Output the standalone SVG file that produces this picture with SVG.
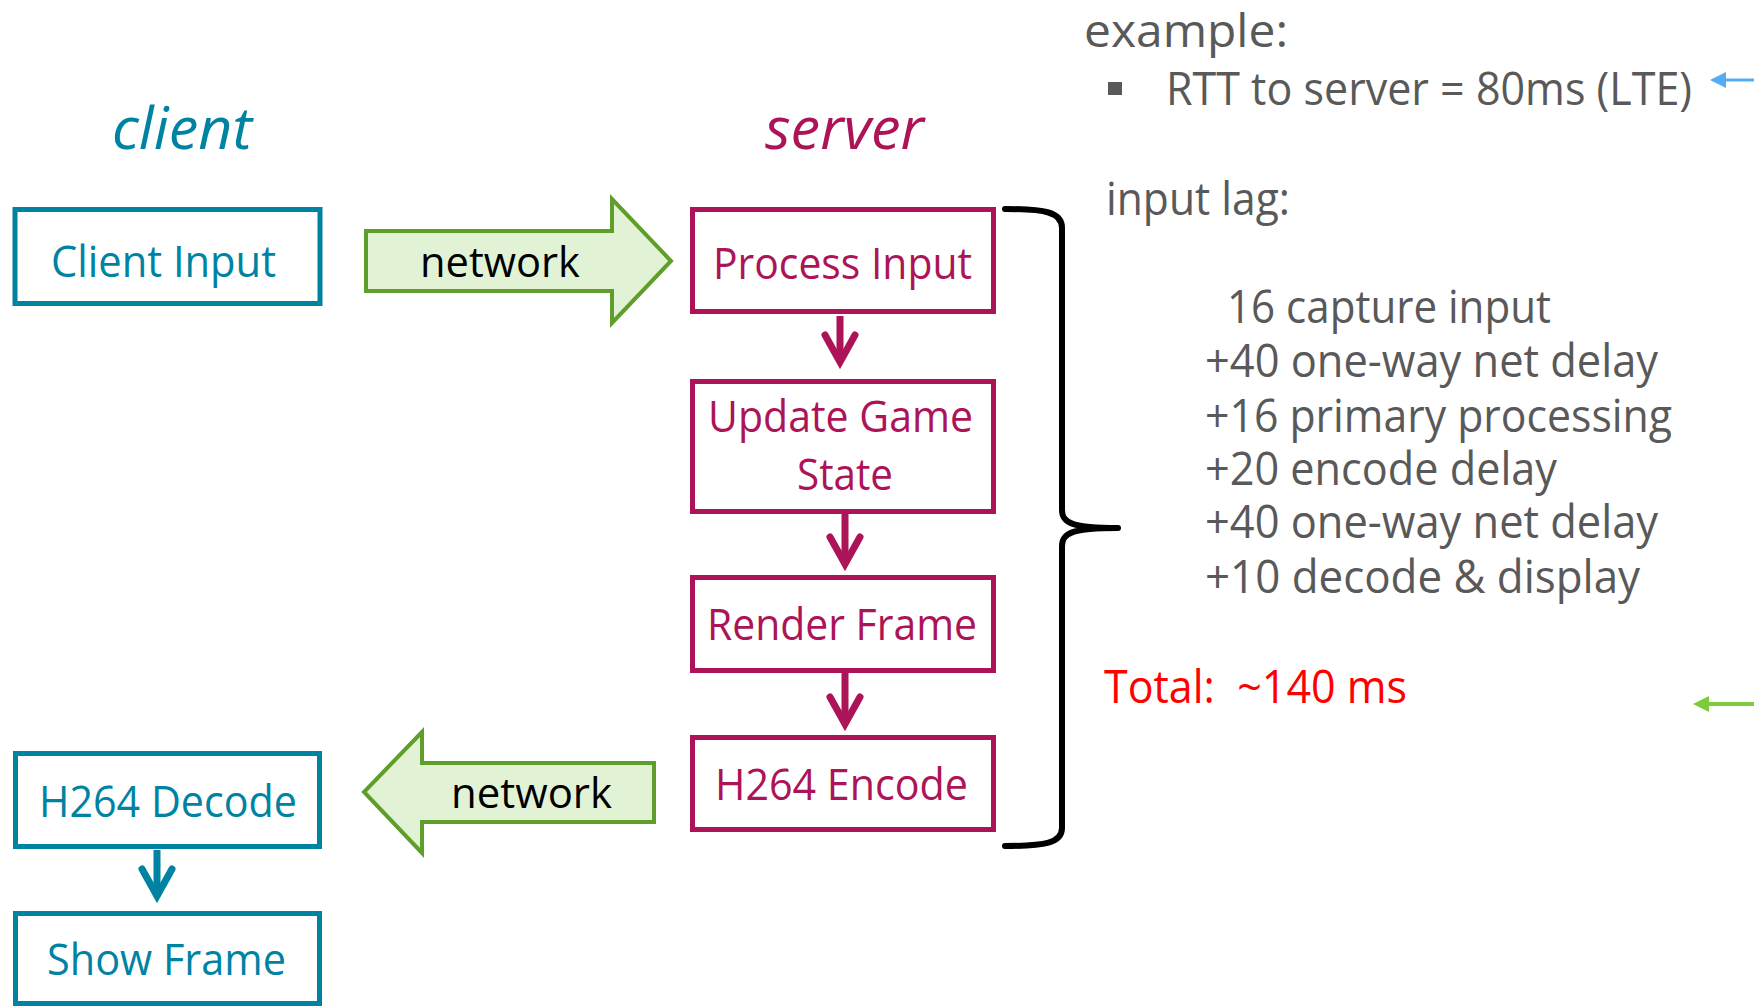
<svg xmlns="http://www.w3.org/2000/svg" width="1754" height="1008" viewBox="0 0 1754 1008">
  <style>
    .bg { fill: #ffffff; }
    .cbox { fill: #ffffff; stroke: #0083A3; stroke-width: 5; }
    .sbox { fill: #ffffff; stroke: #AD1457; stroke-width: 5; }
    .ctext { font-family: "Open Sans", "Noto Sans", sans-serif; font-size: 44px; fill: #0083A3; }
    .stext { font-family: "Open Sans", "Noto Sans", sans-serif; font-size: 43px; fill: #AD1457; }
    .head { font-family: "Open Sans", "Noto Sans", sans-serif; font-size: 58px; font-style: italic; }
    .net { fill: #E2F2D5; stroke: #5F9E2B; stroke-width: 4; stroke-linejoin: miter; }
    .nettext { font-family: "Open Sans", "Noto Sans", sans-serif; font-size: 42px; fill: #000000; }
    .gray { font-family: "Open Sans", "Noto Sans", sans-serif; font-size: 45px; fill: #595959; }
    .red { font-family: "Open Sans", "Noto Sans", sans-serif; font-size: 45px; fill: #FF0000; }
    .flowS { stroke: #AD1457; stroke-width: 7; fill: none; }
    .flowC { stroke: #0083A3; stroke-width: 7; fill: none; }
    .brace { stroke: #000000; stroke-width: 6; fill: none; stroke-linecap: round; stroke-linejoin: round; }
  </style>
  <defs>
    <marker id="chevS" markerUnits="userSpaceOnUse" viewBox="-40 -20 50 40" markerWidth="50" markerHeight="40" refX="0" refY="0" orient="auto" overflow="visible">
      <path d="M-27,-15 L0,0 L-27,15" fill="none" stroke="#AD1457" stroke-width="7" stroke-linecap="round" stroke-linejoin="miter"/>
    </marker>
    <marker id="chevC" markerUnits="userSpaceOnUse" viewBox="-40 -20 50 40" markerWidth="50" markerHeight="40" refX="0" refY="0" orient="auto" overflow="visible">
      <path d="M-27,-15 L0,0 L-27,15" fill="none" stroke="#0083A3" stroke-width="7" stroke-linecap="round" stroke-linejoin="miter"/>
    </marker>
  </defs>
  <rect class="bg" x="0" y="0" width="1754" height="1008"/>

  <!-- headers -->
  <text class="head" x="112" y="149" fill="#0083A3" textLength="140" lengthAdjust="spacingAndGlyphs">client</text>
  <text class="head" x="765" y="149" fill="#AD1457" textLength="159" lengthAdjust="spacingAndGlyphs">server</text>

  <!-- connectors -->
  <g id="connectors">
    <path class="flowS" d="M840,316 V362" marker-end="url(#chevS)"/>
    <path class="flowS" d="M845,514 V564" marker-end="url(#chevS)"/>
    <path class="flowS" d="M845,673 V724" marker-end="url(#chevS)"/>
    <path class="flowC" d="M157,850 V896" marker-end="url(#chevC)"/>
    <g id="net-up">
      <polygon class="net" points="366,231 612,231 612,199 671,261 612,323 612,291 366,291"/>
      <text class="nettext" x="420" y="277" textLength="160" lengthAdjust="spacingAndGlyphs">network</text>
    </g>
    <g id="net-down">
      <polygon class="net" points="654,763 422,763 422,732 364,792 422,853 422,822 654,822"/>
      <text class="nettext" x="451" y="808" textLength="161" lengthAdjust="spacingAndGlyphs">network</text>
    </g>
    <path class="brace" d="M1005,209 C1045,209 1062,212 1062,228 L1062,510 C1062,523 1072,528 1118,528 C1072,528 1062,533 1062,546 L1062,828 C1062,843 1045,846 1005,846"/>
    <g id="blue-arrow">
      <line x1="1754" y1="80" x2="1722" y2="80" stroke="#56ACF2" stroke-width="3"/>
      <polygon points="1710,80 1726,72 1726,88" fill="#56ACF2"/>
    </g>
    <g id="green-arrow">
      <line x1="1754" y1="704" x2="1704" y2="704" stroke="#7ACC3A" stroke-width="4"/>
      <polygon points="1693,704 1709,696 1709,712" fill="#7ACC3A"/>
    </g>
  </g>

  <!-- client nodes -->
  <g id="client-input">
    <rect class="cbox" x="15" y="209.5" width="305" height="94"/>
    <text class="ctext" x="51" y="277" font-size="45" textLength="225" lengthAdjust="spacingAndGlyphs">Client Input</text>
  </g>
  <g id="h264-decode">
    <rect class="cbox" x="15.5" y="753.5" width="304" height="93"/>
    <text class="ctext" x="39" y="817" textLength="258" lengthAdjust="spacingAndGlyphs">H264 Decode</text>
  </g>
  <g id="show-frame">
    <rect class="cbox" x="15.5" y="913.5" width="304" height="90"/>
    <text class="ctext" x="47" y="975" textLength="239" lengthAdjust="spacingAndGlyphs">Show Frame</text>
  </g>

  <!-- server nodes -->
  <g id="process-input">
    <rect class="sbox" x="692.5" y="209.5" width="301" height="102"/>
    <text class="stext" x="713" y="279" textLength="259" lengthAdjust="spacingAndGlyphs">Process Input</text>
  </g>
  <g id="update-game-state">
    <rect class="sbox" x="692.5" y="381.5" width="301" height="130"/>
    <text class="stext" x="708" y="432" textLength="265" lengthAdjust="spacingAndGlyphs">Update Game</text>
    <text class="stext" x="797" y="490" textLength="96" lengthAdjust="spacingAndGlyphs">State</text>
  </g>
  <g id="render-frame">
    <rect class="sbox" x="692.5" y="577.5" width="301" height="93"/>
    <text class="stext" x="707" y="640" textLength="270" lengthAdjust="spacingAndGlyphs">Render Frame</text>
  </g>
  <g id="h264-encode">
    <rect class="sbox" x="692.5" y="737.5" width="301" height="92"/>
    <text class="stext" x="715" y="800" textLength="253" lengthAdjust="spacingAndGlyphs">H264 Encode</text>
  </g>

  <!-- notes -->
  <g id="notes">
    <text class="gray" x="1084" y="47" font-size="52" textLength="204" lengthAdjust="spacingAndGlyphs">example:</text>
    <rect x="1108" y="82" width="14" height="13" fill="#595959"/>
    <text class="gray" x="1166" y="105" textLength="526" lengthAdjust="spacingAndGlyphs">RTT to server = 80ms (LTE)</text>
    <text class="gray" x="1106" y="215" textLength="184" lengthAdjust="spacingAndGlyphs">input lag:</text>
    <text class="gray" x="1227" y="323" textLength="324" lengthAdjust="spacingAndGlyphs">16 capture input</text>
    <text class="gray" x="1205" y="377" textLength="453" lengthAdjust="spacingAndGlyphs">+40 one-way net delay</text>
    <text class="gray" x="1205" y="432" textLength="467" lengthAdjust="spacingAndGlyphs">+16 primary processing</text>
    <text class="gray" x="1205" y="485" textLength="352" lengthAdjust="spacingAndGlyphs">+20 encode delay</text>
    <text class="gray" x="1205" y="538" textLength="453" lengthAdjust="spacingAndGlyphs">+40 one-way net delay</text>
    <text class="gray" x="1205" y="593" textLength="435" lengthAdjust="spacingAndGlyphs">+10 decode &amp; display</text>
    <text class="red" x="1104" y="703" textLength="303" lengthAdjust="spacingAndGlyphs" xml:space="preserve">Total:  ~140 ms</text>
  </g>
</svg>
